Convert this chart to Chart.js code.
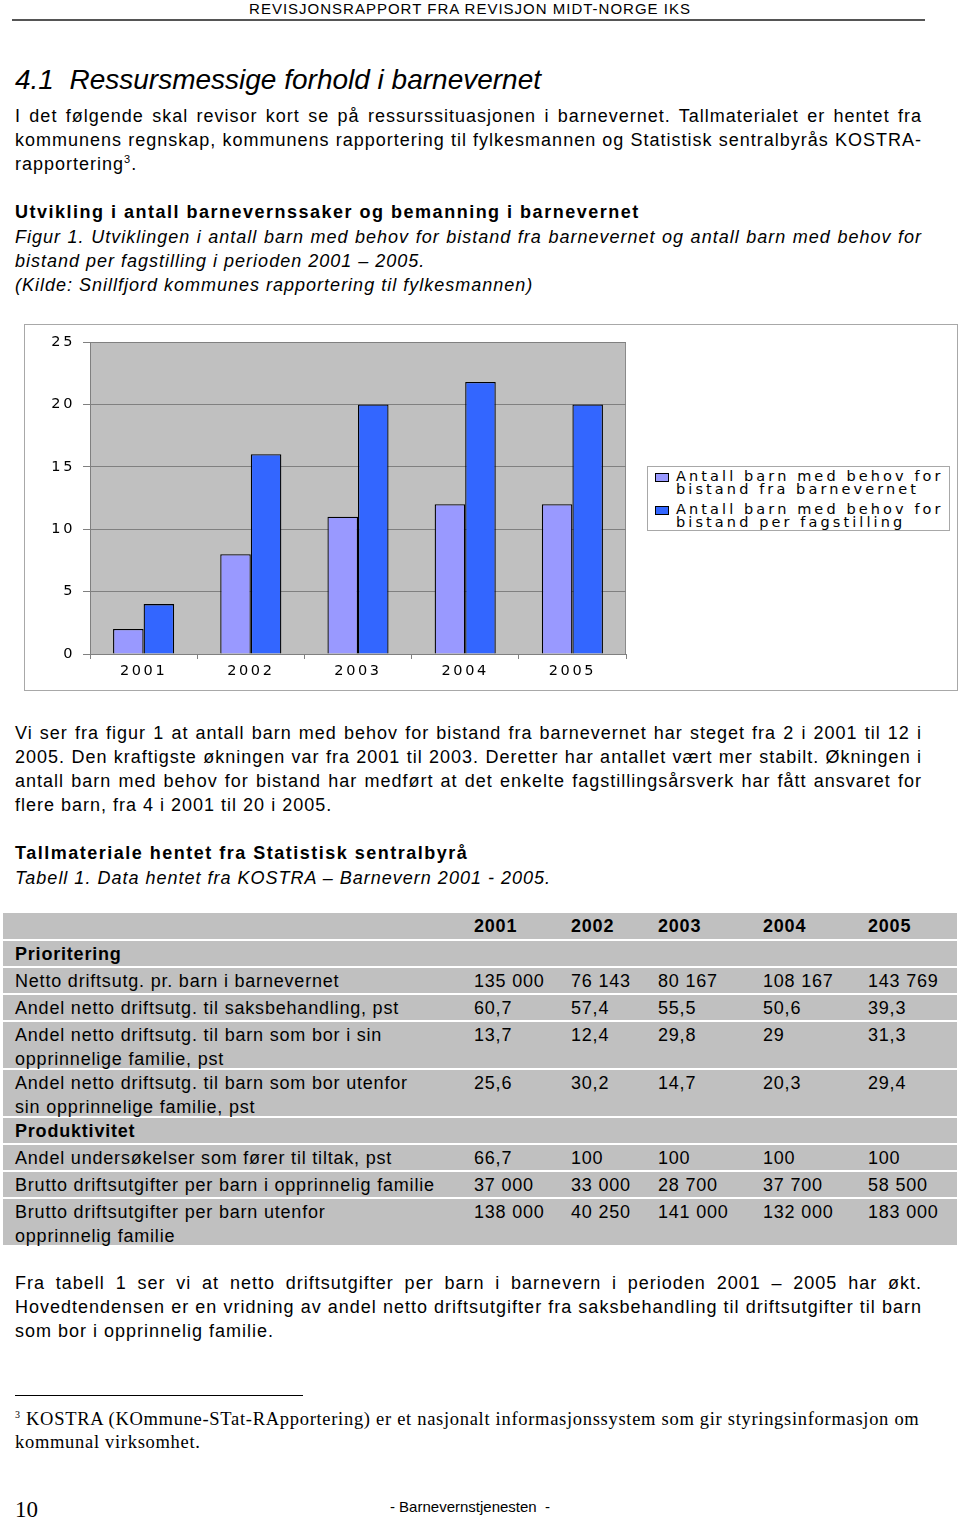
<!DOCTYPE html>
<html>
<head>
<meta charset="utf-8">
<script src="https://cdn.jsdelivr.net/npm/chart.js@4"></script>
<style>
  body { margin: 0; width: 960px; height: 1521px; position: relative; background: #fff;
         font-family: "Liberation Sans", Arial, sans-serif; color: #000; overflow: hidden; }
  .abs { position: absolute; white-space: nowrap; }
  .line { position: absolute; left: 15px; width: 907px; height: 24px; line-height: 24px; font-size: 18px; white-space: nowrap; letter-spacing: 1px; }
  .just { text-align: justify; text-align-last: justify; }
  .it { font-style: italic; }
  .b { font-weight: bold; letter-spacing: 1.5px; }
  #chartBox { position: absolute; left: 24px; top: 324px; width: 932px; height: 365px; border: 1px solid #a8a8a8; }
  #legend { position: absolute; left: 647px; top: 466px; width: 301px; height: 63px; border: 1px solid #a8a8a8; background: #fff;
            font-family: "DejaVu Sans", sans-serif; font-size: 14.5px; letter-spacing: 3.1px; line-height: 13px; }
  .lg-item { position: absolute; left: 28px; }
  .lg-sw { position: absolute; left: -21px; top: 3px; width: 12px; height: 7px; border: 1px solid #000; }
  .trow { position: absolute; left: 3px; width: 954px; background: #c0c0c0; font-size: 18px; line-height: 24px; letter-spacing: 0.8px; }
  .trow div { position: absolute; top: 0; white-space: nowrap; }
  .fn { position: absolute; left: 15px; font-family: "Liberation Serif", serif; font-size: 18.5px; line-height: 22px; letter-spacing: 0.7px; white-space: nowrap; }
</style>
</head>
<body>
<!-- topptekst -->
<div class="abs" style="left:0;width:940px;top:0;text-align:center;font-size:15px;line-height:18px;letter-spacing:1px;">REVISJONSRAPPORT FRA REVISJON MIDT-NORGE IKS</div>
<div class="abs" style="left:12px;top:19px;width:913px;height:2px;background:#555;"></div>

<div class="abs it" style="left:15px;top:62px;font-size:28px;line-height:36px;">4.1&nbsp;&nbsp;Ressursmessige forhold i barnevernet</div>

<div class="line just" style="top:104px;">I det følgende skal revisor kort se på ressurssituasjonen i barnevernet. Tallmaterialet er hentet fra</div>
<div class="line just" style="top:128px;">kommunens regnskap, kommunens rapportering til fylkesmannen og Statistisk sentralbyrås KOSTRA-</div>
<div class="line" style="top:152px;">rapportering<sup style="font-size:11px;line-height:0;">3</sup>.</div>

<div class="line b" style="top:200px;">Utvikling i antall barnevernssaker og bemanning i barnevernet</div>
<div class="line just it" style="top:225px;">Figur 1. Utviklingen i antall barn med behov for bistand fra barnevernet og antall barn med behov for</div>
<div class="line it" style="top:249px;">bistand per fagstilling i perioden 2001 – 2005.</div>
<div class="line it" style="top:273px;">(Kilde: Snillfjord kommunes rapportering til fylkesmannen)</div>

<div id="chartBox"><canvas id="myChart"></canvas></div>
<div id="legend"></div>

<div class="line just" style="top:721px;">Vi ser fra figur 1 at antall barn med behov for bistand fra barnevernet har steget fra 2 i 2001 til 12 i</div>
<div class="line just" style="top:745px;">2005. Den kraftigste økningen var fra 2001 til 2003. Deretter har antallet vært mer stabilt. Økningen i</div>
<div class="line just" style="top:769px;">antall barn med behov for bistand har medført at det enkelte fagstillingsårsverk har fått ansvaret for</div>
<div class="line" style="top:793px;">flere barn, fra 4 i 2001 til 20 i 2005.</div>

<div class="line b" style="top:841px;">Tallmateriale hentet fra Statistisk sentralbyrå</div>
<div class="line it" style="top:866px;">Tabell 1. Data hentet fra KOSTRA – Barnevern 2001 - 2005.</div>

<div id="tabell"></div>

<div class="line just" style="top:1271px;">Fra tabell 1 ser vi at netto driftsutgifter per barn i barnevern i perioden 2001 – 2005 har økt.</div>
<div class="line just" style="top:1295px;">Hovedtendensen er en vridning av andel netto driftsutgifter fra saksbehandling til driftsutgifter til barn</div>
<div class="line" style="top:1319px;">som bor i opprinnelig familie.</div>

<!-- fotnote -->
<div class="abs" style="left:15px;top:1395px;width:288px;height:1px;background:#000;"></div>
<div class="fn" style="top:1408px;"><sup style="font-size:10px;line-height:0;">3</sup> KOSTRA (KOmmune-STat-RApportering) er et nasjonalt informasjonssystem som gir styringsinformasjon om</div>
<div class="fn" style="top:1431px;">kommunal virksomhet.</div>

<div class="abs" style="left:15px;top:1496px;font-family:'Liberation Serif',serif;font-size:23px;line-height:28px;">10</div>
<div class="abs" style="left:0;width:940px;top:1498px;text-align:center;font-size:15px;line-height:18px;">- Barnevernstjenesten&nbsp; -</div>

<script>
// DATA
const aar = ["2001", "2002", "2003", "2004", "2005"];
const barnBehov = [2, 8, 11, 12, 12];
const barnPerFagstilling = [4, 16, 20, 21.8, 20];
const serieNavn = [
  ["Antall barn med behov for", "bistand fra barnevernet"],
  ["Antall barn med behov for", "bistand per fagstilling"],
];
const serieFarger = ["#9999ff", "#3366ff"];
const yTicks = [0, 5, 10, 15, 20, 25];

// TABELL DATA
const tabellAar = ["2001", "2002", "2003", "2004", "2005"];
const tabellRader = [
  { tekst: ["Prioritering"], fet: true, verdier: [] },
  { tekst: ["Netto driftsutg.  pr. barn i barnevernet"], verdier: ["135 000", "76 143", "80 167", "108 167", "143 769"] },
  { tekst: ["Andel netto driftsutg. til saksbehandling, pst"], verdier: ["60,7", "57,4", "55,5", "50,6", "39,3"] },
  { tekst: ["Andel netto driftsutg. til barn som bor i sin", "opprinnelige familie, pst"], verdier: ["13,7", "12,4", "29,8", "29", "31,3"] },
  { tekst: ["Andel netto driftsutg. til barn som bor utenfor", "sin opprinnelige familie, pst"], verdier: ["25,6", "30,2", "14,7", "20,3", "29,4"] },
  { tekst: ["Produktivitet"], fet: true, verdier: [] },
  { tekst: ["Andel undersøkelser som fører til tiltak, pst"], verdier: ["66,7", "100", "100", "100", "100"] },
  { tekst: ["Brutto driftsutgifter per barn i opprinnelig familie"], verdier: ["37 000", "33 000", "28 700", "37 700", "58 500"] },
  { tekst: ["Brutto driftsutgifter per barn utenfor", "opprinnelig familie"], verdier: ["138 000", "40 250", "141 000", "132 000", "183 000"] },
];
const kolX = [471, 568, 655, 760, 865];

// BYGG TABELL
const tabell = document.getElementById("tabell");
let y = 913;
function lagRad(topp, hoyde, celler, fet) {
  const rad = document.createElement("div");
  rad.className = "trow";
  rad.style.top = topp + "px";
  rad.style.height = hoyde + "px";
  celler.forEach(function (c) {
    const d = document.createElement("div");
    d.style.left = c.x + "px";
    d.style.top = "1px";
    d.innerHTML = c.t;
    if (c.fet || fet) d.style.fontWeight = "bold";
    rad.appendChild(d);
  });
  tabell.appendChild(rad);
}
lagRad(y, 26, tabellAar.map(function (a, i) { return { x: kolX[i], t: a }; }), true);
y += 28;
tabellRader.forEach(function (r) {
  const h = r.tekst.length > 1 ? 46 : 25;
  const celler = [{ x: 12, t: r.tekst.join("<br>"), fet: r.fet }];
  r.verdier.forEach(function (v, i) { celler.push({ x: kolX[i], t: v }); });
  lagRad(y, h, celler, false);
  y += h + 2;
});

// LEGENDE
const legend = document.getElementById("legend");
serieNavn.forEach(function (navn, i) {
  const it = document.createElement("div");
  it.className = "lg-item";
  it.style.top = (3 + i * 33) + "px";
  it.innerHTML = '<span class="lg-sw" style="background:' + serieFarger[i] + '"></span>' + navn.join("<br>");
  legend.appendChild(it);
});

// BAKGRUNN I PLOTTOMRÅDET + BOKSTAVAVSTAND
const plotBakgrunn = {
  id: "plotBakgrunn",
  beforeUpdate: function (chart) { chart.ctx.letterSpacing = "2.6px"; },
  beforeDraw: function (chart) {
    const ctx = chart.ctx;
    const a = chart.chartArea;
    ctx.save();
    ctx.fillStyle = "#c0c0c0";
    ctx.fillRect(a.left, a.top, a.right - a.left, a.bottom - a.top);
    ctx.strokeStyle = "#8a8a8a";
    ctx.lineWidth = 1;
    ctx.strokeRect(a.left + 0.5, a.top + 0.5, a.right - a.left - 1, a.bottom - a.top);
    ctx.restore();
    ctx.letterSpacing = "2.6px";
  },
};

// CREAR GRAFICO
const ctx = document.getElementById("myChart").getContext("2d");
const myChart = new Chart(ctx, {
  type: "bar",
  data: {
    labels: aar,
    datasets: [
      { label: serieNavn[0].join(" "), data: barnBehov, backgroundColor: serieFarger[0], borderColor: "#000", borderWidth: 1.3 },
      { label: serieNavn[1].join(" "), data: barnPerFagstilling, backgroundColor: serieFarger[1], borderColor: "#000", borderWidth: 1.3 },
    ],
  },
  options: {
    responsive: true,
    maintainAspectRatio: false,
    animation: false,
    datasets: { bar: { categoryPercentage: 0.57, barPercentage: 1 } },
    layout: { padding: { left: 18, top: 17, right: 331, bottom: 11 } },
    plugins: { legend: { display: false }, tooltip: { enabled: false } },
    scales: {
      x: {
        grid: { display: true, drawOnChartArea: false, offset: true, tickLength: 5, color: "#808080" },
        border: { color: "#808080" },
        ticks: { color: "#000", padding: 4, font: { family: "DejaVu Sans", size: 14.5 } },
        afterFit: function (s) { s.height = 25; },
      },
      y: {
        min: 0,
        max: 25,
        afterBuildTicks: function (s) { s.ticks = yTicks.map(function (v) { return { value: v }; }); },
        grid: { color: "#808080", tickLength: 7 },
        border: { color: "#808080" },
        ticks: { color: "#000", padding: 8, font: { family: "DejaVu Sans", size: 14.5 } },
        afterFit: function (s) { s.width = 47; },
      },
    },
  },
  plugins: [plotBakgrunn],
});
</script>
</body>
</html>
